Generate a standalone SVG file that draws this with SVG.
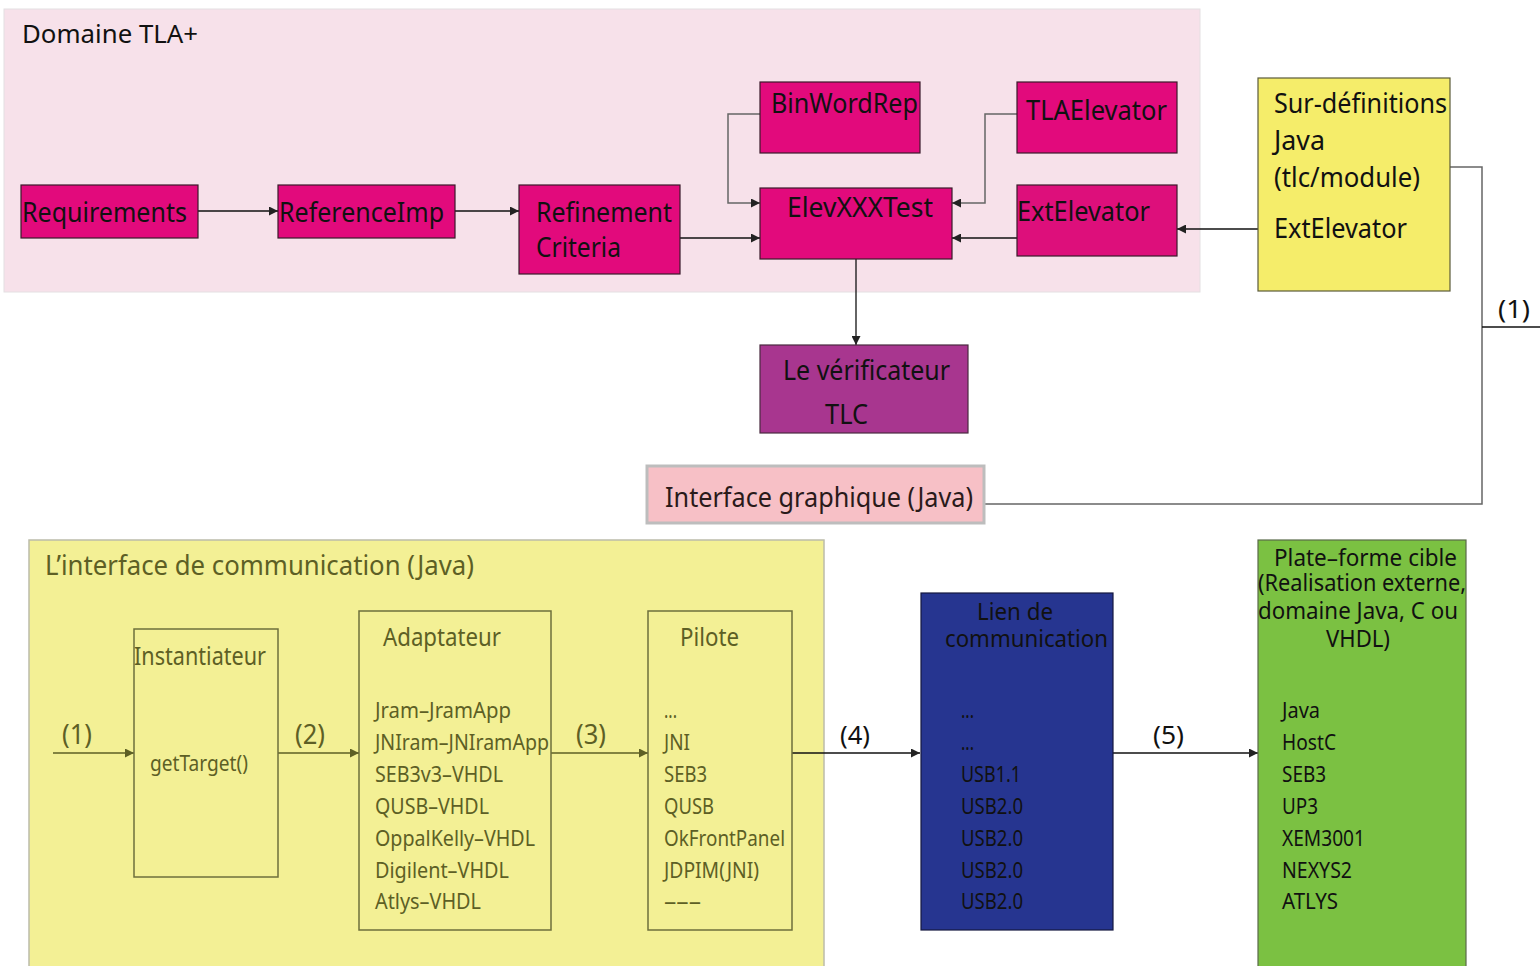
<svg xmlns="http://www.w3.org/2000/svg" width="1540" height="966" viewBox="0 0 1540 966">
  <style>
    text { font-family: "Noto Sans", "Liberation Sans", sans-serif; }
    .big { font-size: 28px; fill: #111; }
    .mid { font-size: 26px; fill: #111; }
    .sub { font-size: 23px; fill: #111; }
    .olive { font-size: 21px; fill: #5d5f25; }
    .oliveT { font-size: 27px; fill: #5d5f25; }
    .oliveH { font-size: 25px; fill: #5d5f25; }
    .dark { font-size: 21px; fill: #111; }
    .mag { fill: #e20a7c; stroke: #3a1a2a; stroke-width: 1.2; }
    .inner { fill: none; stroke: #6e6f3c; stroke-width: 1.5; }
    .wire { fill: none; stroke: #111; stroke-width: 1.3; }
    .gwire { fill: none; stroke: #666; stroke-width: 1.5; }
    .owire { fill: none; stroke: #5d5f25; stroke-width: 1.3; }
  </style>
  <defs>
    <marker id="ah" viewBox="0 0 10 10" refX="10" refY="5" markerWidth="16" markerHeight="9" markerUnits="userSpaceOnUse" orient="auto">
      <path d="M0,0 L10,5 L0,10 Z" fill="#222"/>
    </marker>
    <marker id="aho" viewBox="0 0 10 10" refX="10" refY="5" markerWidth="16" markerHeight="9" markerUnits="userSpaceOnUse" orient="auto">
      <path d="M0,0 L10,5 L0,10 Z" fill="#5d5f25"/>
    </marker>
  </defs>

  <rect width="1540" height="966" fill="#ffffff"/>

  <!-- TLA+ domain -->
  <g id="domaine-tla">
    <rect x="4" y="9" width="1196" height="283" fill="#f7e1ea" stroke="#e4dfe2" stroke-width="1"/>
    <text x="22" y="43" class="mid" textLength="176" lengthAdjust="spacingAndGlyphs">Domaine TLA+</text>
  </g>

  <!-- communication interface -->
  <g id="interface-communication">
    <rect x="29" y="540" width="795" height="430" fill="#f3f095" stroke="#bcbcaa" stroke-width="1.5"/>
    <text x="45" y="575" class="oliveT" textLength="429" lengthAdjust="spacingAndGlyphs">L’interface de communication (Java)</text>
  </g>

  <g id="connectors">
    <path class="wire" d="M198,211 H278" marker-end="url(#ah)"/>
    <path class="wire" d="M455,211 H519" marker-end="url(#ah)"/>
    <path class="wire" d="M680,238 H760" marker-end="url(#ah)"/>
    <path class="gwire" d="M760,114 H728 V203 H760" marker-end="url(#ah)"/>
    <path class="gwire" d="M1017,114 H985 V203 H952" marker-end="url(#ah)"/>
    <path class="wire" d="M1017,238 H952" marker-end="url(#ah)"/>
    <path class="wire" d="M1274,229 H1177" marker-end="url(#ah)"/>
    <path class="wire" d="M856,259 V345" marker-end="url(#ah)"/>
    <path class="gwire" d="M1450,167 H1482 V504 H985"/>
    <path class="wire" d="M1482,327 H1540"/>
    <text x="1498" y="318" class="mid" textLength="32" lengthAdjust="spacingAndGlyphs">(1)</text>

    <path class="owire" d="M53,753 H134" marker-end="url(#aho)"/>
    <text x="62" y="744" class="oliveT" textLength="30" lengthAdjust="spacingAndGlyphs">(1)</text>
    <path class="owire" d="M278,753 H359" marker-end="url(#aho)"/>
    <text x="295" y="744" class="oliveT" textLength="30" lengthAdjust="spacingAndGlyphs">(2)</text>
    <path class="owire" d="M551,753 H648" marker-end="url(#aho)"/>
    <text x="576" y="744" class="oliveT" textLength="30" lengthAdjust="spacingAndGlyphs">(3)</text>
    <path class="wire" d="M792,753 H920" marker-end="url(#ah)"/>
    <text x="840" y="744" class="mid" textLength="30" lengthAdjust="spacingAndGlyphs">(4)</text>
    <path class="wire" d="M1113,753 H1258" marker-end="url(#ah)"/>
    <text x="1153" y="744" class="mid" textLength="31" lengthAdjust="spacingAndGlyphs">(5)</text>
  </g>

  <g id="requirements">
    <rect class="mag" x="21" y="185" width="177" height="53"/>
    <text x="22" y="222" class="big" textLength="165" lengthAdjust="spacingAndGlyphs">Requirements</text>
  </g>
  <g id="referenceimp">
    <rect class="mag" x="278" y="185" width="177" height="53"/>
    <text x="279" y="222" class="big" textLength="165" lengthAdjust="spacingAndGlyphs">ReferenceImp</text>
  </g>
  <g id="refinement-criteria">
    <rect class="mag" x="519" y="185" width="161" height="89"/>
    <text x="536" y="222" class="big" textLength="136" lengthAdjust="spacingAndGlyphs">Refinement</text>
    <text x="536" y="257" class="big" textLength="85" lengthAdjust="spacingAndGlyphs">Criteria</text>
  </g>
  <g id="binwordrep">
    <rect class="mag" x="760" y="82" width="160" height="71"/>
    <text x="771" y="113" class="big" textLength="147" lengthAdjust="spacingAndGlyphs">BinWordRep</text>
  </g>
  <g id="tlaelevator">
    <rect class="mag" x="1017" y="82" width="160" height="71"/>
    <text x="1026" y="120" class="big" textLength="141" lengthAdjust="spacingAndGlyphs">TLAElevator</text>
  </g>
  <g id="elevxxxtest">
    <rect class="mag" x="760" y="188" width="192" height="71"/>
    <text x="787" y="217" class="big" textLength="146" lengthAdjust="spacingAndGlyphs">ElevXXXTest</text>
  </g>
  <g id="extelevator">
    <rect x="1017" y="185" width="160" height="71" fill="#dd0f7b" stroke="#3a1a2a" stroke-width="1.2"/>
    <text x="1017" y="221" class="big" textLength="133" lengthAdjust="spacingAndGlyphs">ExtElevator</text>
  </g>
  <g id="sur-definitions">
    <rect x="1258" y="78" width="192" height="213" fill="#f5ed6a" stroke="#5a5a3a" stroke-width="1.2"/>
    <text x="1274" y="113" class="big" textLength="173" lengthAdjust="spacingAndGlyphs">Sur-définitions</text>
    <text x="1274" y="150" class="big" textLength="51" lengthAdjust="spacingAndGlyphs">Java</text>
    <text x="1274" y="187" class="big" textLength="146" lengthAdjust="spacingAndGlyphs">(tlc/module)</text>
    <text x="1274" y="238" class="big" textLength="133" lengthAdjust="spacingAndGlyphs">ExtElevator</text>
  </g>
  <g id="verificateur-tlc">
    <rect x="760" y="345" width="208" height="88" fill="#a8368f" stroke="#4a2a40" stroke-width="1.2"/>
    <text x="783" y="380" class="big" textLength="167" lengthAdjust="spacingAndGlyphs">Le vérificateur</text>
    <text x="825" y="424" class="big" textLength="43" lengthAdjust="spacingAndGlyphs">TLC</text>
  </g>
  <g id="interface-graphique">
    <rect x="647" y="466" width="337" height="57" fill="#f7c0c6" stroke="#bdbdbd" stroke-width="3"/>
    <text x="665" y="507" class="big" style="fill:#2a1a1a" textLength="308" lengthAdjust="spacingAndGlyphs">Interface graphique (Java)</text>
  </g>

  <g id="instantiateur">
    <rect class="inner" x="134" y="629" width="144" height="248"/>
    <text x="134" y="665" class="oliveH" textLength="132" lengthAdjust="spacingAndGlyphs">Instantiateur</text>
    <text x="150" y="771" class="olive" textLength="98" lengthAdjust="spacingAndGlyphs">getTarget()</text>
  </g>
  <g id="adaptateur">
    <rect class="inner" x="359" y="611" width="192" height="319"/>
    <text x="383" y="646" class="oliveH" textLength="118" lengthAdjust="spacingAndGlyphs">Adaptateur</text>
    <text x="375" y="718" class="olive" textLength="136" lengthAdjust="spacingAndGlyphs">Jram–JramApp</text>
    <text x="375" y="750" class="olive" textLength="174" lengthAdjust="spacingAndGlyphs">JNIram–JNIramApp</text>
    <text x="375" y="782" class="olive" textLength="128" lengthAdjust="spacingAndGlyphs">SEB3v3–VHDL</text>
    <text x="375" y="814" class="olive" textLength="114" lengthAdjust="spacingAndGlyphs">QUSB–VHDL</text>
    <text x="375" y="846" class="olive" textLength="160" lengthAdjust="spacingAndGlyphs">OppalKelly–VHDL</text>
    <text x="375" y="878" class="olive" textLength="134" lengthAdjust="spacingAndGlyphs">Digilent–VHDL</text>
    <text x="375" y="909" class="olive" textLength="106" lengthAdjust="spacingAndGlyphs">Atlys–VHDL</text>
  </g>
  <g id="pilote">
    <rect class="inner" x="648" y="611" width="144" height="319"/>
    <text x="680" y="646" class="oliveH" textLength="59" lengthAdjust="spacingAndGlyphs">Pilote</text>
    <text x="664" y="718" class="olive" textLength="13" lengthAdjust="spacingAndGlyphs">...</text>
    <text x="664" y="750" class="olive" textLength="26" lengthAdjust="spacingAndGlyphs">JNI</text>
    <text x="664" y="782" class="olive" textLength="43" lengthAdjust="spacingAndGlyphs">SEB3</text>
    <text x="664" y="814" class="olive" textLength="50" lengthAdjust="spacingAndGlyphs">QUSB</text>
    <text x="664" y="846" class="olive" textLength="121" lengthAdjust="spacingAndGlyphs">OkFrontPanel</text>
    <text x="664" y="878" class="olive" textLength="95" lengthAdjust="spacingAndGlyphs">JDPIM(JNI)</text>
    <text x="664" y="909" class="olive" textLength="37" lengthAdjust="spacingAndGlyphs">–––</text>
  </g>

  <g id="lien-communication">
    <rect x="921" y="593" width="192" height="337" fill="#263590" stroke="#141840" stroke-width="1.2"/>
    <text x="977" y="620" class="sub" textLength="76" lengthAdjust="spacingAndGlyphs">Lien de</text>
    <text x="945" y="647" class="sub" textLength="163" lengthAdjust="spacingAndGlyphs">communication</text>
    <text x="961" y="718" class="dark" textLength="13" lengthAdjust="spacingAndGlyphs">...</text>
    <text x="961" y="750" class="dark" textLength="13" lengthAdjust="spacingAndGlyphs">...</text>
    <text x="961" y="782" class="dark" textLength="60" lengthAdjust="spacingAndGlyphs">USB1.1</text>
    <text x="961" y="814" class="dark" textLength="62" lengthAdjust="spacingAndGlyphs">USB2.0</text>
    <text x="961" y="846" class="dark" textLength="62" lengthAdjust="spacingAndGlyphs">USB2.0</text>
    <text x="961" y="878" class="dark" textLength="62" lengthAdjust="spacingAndGlyphs">USB2.0</text>
    <text x="961" y="909" class="dark" textLength="62" lengthAdjust="spacingAndGlyphs">USB2.0</text>
  </g>

  <g id="plate-forme-cible">
    <rect x="1258" y="540" width="208" height="430" fill="#7bc142" stroke="#5a6a4a" stroke-width="1.2"/>
    <text x="1274" y="566" class="sub" textLength="183" lengthAdjust="spacingAndGlyphs">Plate–forme cible</text>
    <text x="1258" y="591" class="sub" textLength="208" lengthAdjust="spacingAndGlyphs">(Realisation externe,</text>
    <text x="1258" y="619" class="sub" textLength="200" lengthAdjust="spacingAndGlyphs">domaine Java, C ou</text>
    <text x="1326" y="647" class="sub" textLength="64" lengthAdjust="spacingAndGlyphs">VHDL)</text>
    <text x="1282" y="718" class="dark" textLength="38" lengthAdjust="spacingAndGlyphs">Java</text>
    <text x="1282" y="750" class="dark" textLength="54" lengthAdjust="spacingAndGlyphs">HostC</text>
    <text x="1282" y="782" class="dark" textLength="44" lengthAdjust="spacingAndGlyphs">SEB3</text>
    <text x="1282" y="814" class="dark" textLength="36" lengthAdjust="spacingAndGlyphs">UP3</text>
    <text x="1282" y="846" class="dark" textLength="83" lengthAdjust="spacingAndGlyphs">XEM3001</text>
    <text x="1282" y="878" class="dark" textLength="70" lengthAdjust="spacingAndGlyphs">NEXYS2</text>
    <text x="1282" y="909" class="dark" textLength="56" lengthAdjust="spacingAndGlyphs">ATLYS</text>
  </g>
</svg>
